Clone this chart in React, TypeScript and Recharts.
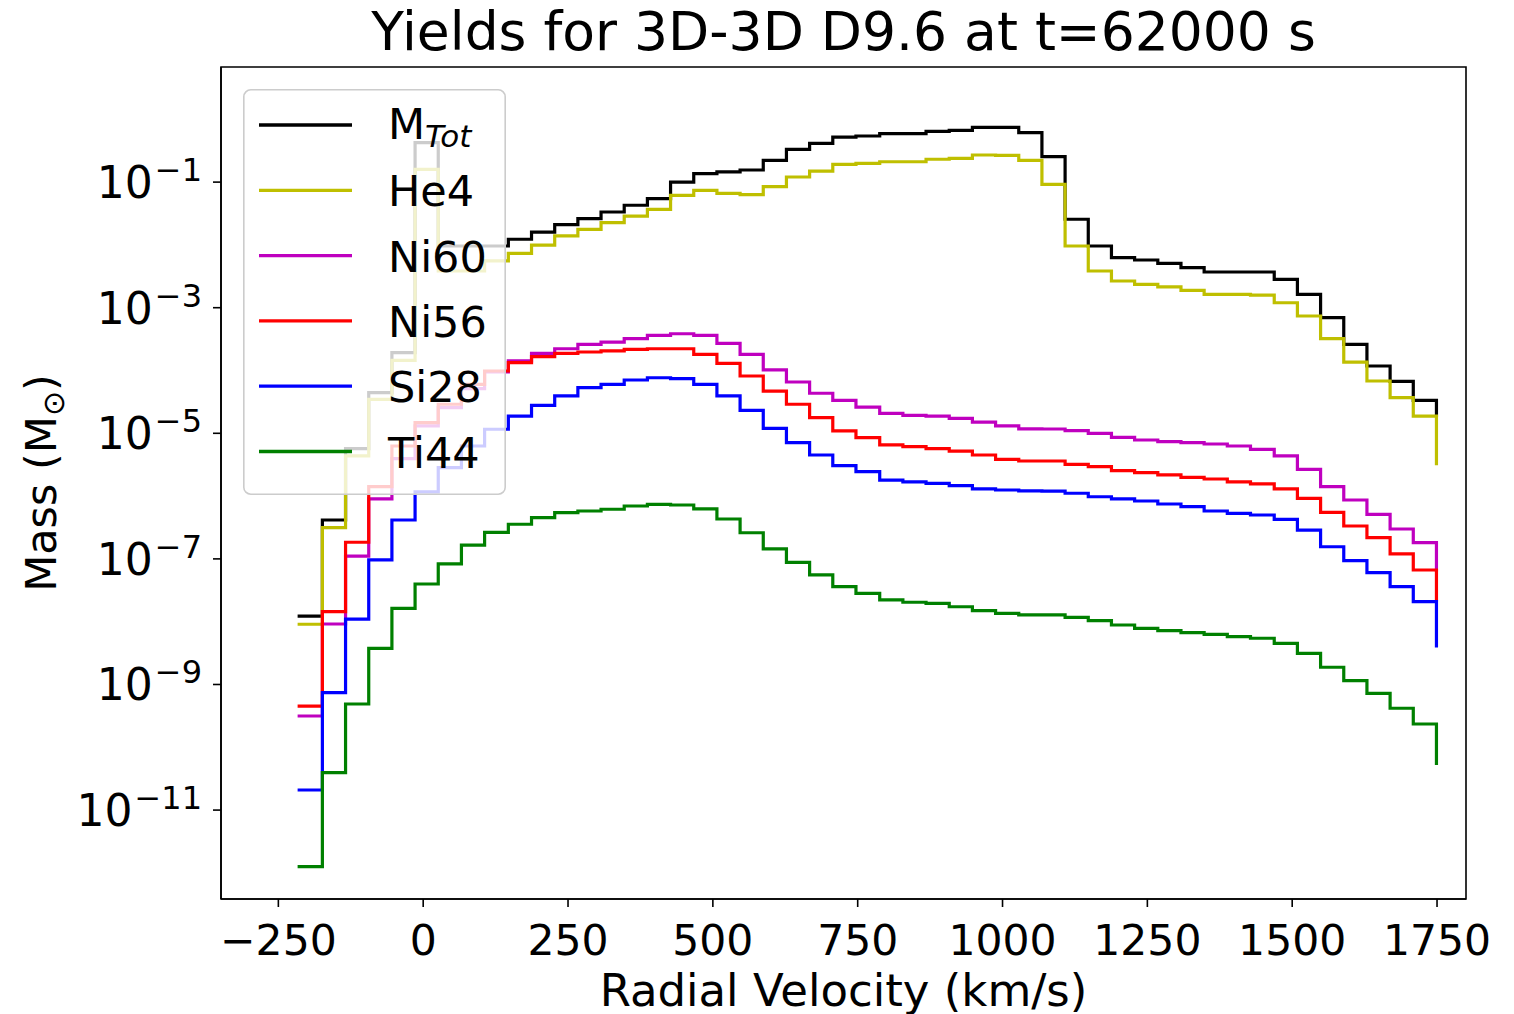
import { LineChart, Line, XAxis, YAxis, Legend, ReferenceArea } from "recharts";

// bin edges (km/s), step drawn "post" like plt.step(where='post')
const VELOCITY = [
  -214, -174, -134, -94, -54, -14, 26, 66, 106, 147,
  187, 227, 267, 307, 347, 387, 427, 467, 507, 547,
  587, 627, 667, 707, 747, 788, 828, 868, 908, 948,
  988, 1028, 1068, 1108, 1148, 1188, 1228, 1268, 1308, 1348,
  1388, 1428, 1469, 1509, 1549, 1589, 1629, 1669, 1709, 1749,
];

const M_TOT = [
  1.23e-8, 4.16e-7, 5.69e-6, 4.44e-5, 1.92e-4, 0.424, 9.6e-3, 9.6e-3, 9.6e-3, 1.23e-2,
  1.6e-2, 2.1e-2, 2.62e-2, 3.34e-2, 4.28e-2, 5.45e-2, 0.1, 0.136, 0.145, 0.156,
  0.222, 0.333, 0.415, 0.522, 0.542, 0.59, 0.59, 0.644, 0.668, 0.746,
  0.746, 0.612, 0.254, 2.56e-2, 9.6e-3, 6.25e-3, 5.75e-3, 5.09e-3, 4.34e-3, 3.7e-3,
  3.7e-3, 3.7e-3, 2.83e-3, 1.63e-3, 6.93e-4, 2.61e-4, 1.18e-4, 6.73e-5, 3.35e-5, 1.95e-5,
];

const HE4 = [
  9.1e-9, 3.14e-7, 4.36e-6, 3.48e-5, 1.45e-4, 0.16, 3.84e-3, 3.84e-3, 5.55e-3, 7.35e-3,
  9.95e-3, 1.39e-2, 1.77e-2, 2.26e-2, 2.88e-2, 3.68e-2, 6.17e-2, 7.4e-2, 6.62e-2, 6.31e-2,
  8.45e-2, 0.1205, 0.15, 0.192, 0.199, 0.211, 0.211, 0.231, 0.239, 0.27,
  0.267, 0.222, 9.23e-2, 9.6e-3, 3.84e-3, 2.66e-3, 2.36e-3, 2.14e-3, 1.89e-3, 1.63e-3,
  1.63e-3, 1.59e-3, 1.2e-3, 7.38e-4, 3.21e-4, 1.36e-4, 6.81e-5, 3.69e-5, 1.88e-5, 3.28e-6,
];

const NI60 = [
  3.15e-10, 9.18e-9, 1.11e-7, 9.0e-7, 3.94e-6, 1.31e-5, 2.56e-5, 5.13e-5, 9.46e-5, 1.42e-4,
  1.87e-4, 2.22e-4, 2.61e-4, 2.84e-4, 3.21e-4, 3.63e-4, 3.85e-4, 3.63e-4, 2.71e-4, 1.81e-4,
  1.02e-4, 6.56e-5, 4.34e-5, 3.35e-5, 2.62e-5, 2.08e-5, 1.93e-5, 1.88e-5, 1.73e-5, 1.51e-5,
  1.31e-5, 1.18e-5, 1.17e-5, 1.1e-5, 1.0e-5, 8.63e-6, 7.82e-6, 7.35e-6, 7.08e-6, 6.76e-6,
  6.28e-6, 5.56e-6, 4.36e-6, 2.67e-6, 1.41e-6, 8.67e-7, 5.13e-7, 2.99e-7, 1.81e-7, 6.6e-8,
];

const NI56 = [
  4.53e-10, 1.45e-8, 1.84e-7, 1.41e-6, 6.28e-6, 1.48e-5, 2.9e-5, 6.03e-5, 9.82e-5, 1.33e-4,
  1.66e-4, 1.87e-4, 1.97e-4, 2.05e-4, 2.17e-4, 2.22e-4, 2.22e-4, 1.81e-4, 1.3e-4, 8.17e-5,
  4.71e-5, 2.9e-5, 1.77e-5, 1.09e-5, 8.51e-6, 6.52e-6, 6.12e-6, 5.69e-6, 5.22e-6, 4.51e-6,
  3.85e-6, 3.62e-6, 3.62e-6, 3.21e-6, 2.94e-6, 2.54e-6, 2.36e-6, 2.17e-6, 1.99e-6, 1.87e-6,
  1.69e-6, 1.56e-6, 1.3e-6, 9.23e-7, 5.52e-7, 3.34e-7, 2.18e-7, 1.2e-7, 6.65e-8, 2.21e-8,
];

const SI28 = [
  2.09e-11, 7.4e-10, 1.1e-8, 9.62e-8, 4.16e-7, 1.17e-6, 2.83e-6, 6.28e-6, 1.16e-5, 1.88e-5,
  2.79e-5, 3.93e-5, 5.32e-5, 6.03e-5, 7.06e-5, 7.67e-5, 7.4e-5, 6.03e-5, 3.93e-5, 2.32e-5,
  1.2e-5, 7.08e-6, 4.51e-6, 3.05e-6, 2.45e-6, 1.8e-6, 1.69e-6, 1.6e-6, 1.47e-6, 1.3e-6,
  1.25e-6, 1.21e-6, 1.2e-6, 1.11e-6, 9.77e-7, 9.0e-7, 8.36e-7, 7.48e-7, 6.78e-7, 5.79e-7,
  5.32e-7, 5.0e-7, 4.27e-7, 2.88e-7, 1.56e-7, 9.35e-8, 6.03e-8, 3.61e-8, 2.08e-8, 4.1e-9,
];

const TI44 = [
  1.26e-12, 3.94e-11, 4.89e-10, 3.77e-9, 1.63e-8, 3.98e-8, 8.3e-8, 1.66e-7, 2.65e-7, 3.56e-7,
  4.53e-7, 5.45e-7, 5.79e-7, 6.17e-7, 6.95e-7, 7.4e-7, 7.21e-7, 6.24e-7, 4.32e-7, 2.61e-7,
  1.44e-7, 8.83e-8, 5.55e-8, 3.61e-8, 2.83e-8, 2.22e-8, 2.04e-8, 1.96e-8, 1.73e-8, 1.5e-8,
  1.36e-8, 1.28e-8, 1.28e-8, 1.17e-8, 1.04e-8, 8.85e-9, 7.85e-9, 7.19e-9, 6.68e-9, 6.3e-9,
  5.77e-9, 5.45e-9, 4.53e-9, 3.14e-9, 1.88e-9, 1.15e-9, 7.24e-10, 4.18e-10, 2.35e-10, 5.56e-11,
];

const X_TICKS = [-250, 0, 250, 500, 750, 1000, 1250, 1500, 1750];
const Y_TICKS = [1e-1, 1e-3, 1e-5, 1e-7, 1e-9, 1e-11];

const SERIES = [
  { key: "mtot", label: "M", sub: "Tot", color: "#000000", values: M_TOT },
  { key: "he4", label: "He4", color: "#bfbf00", values: HE4 },
  { key: "ni60", label: "Ni60", color: "#bf00bf", values: NI60 },
  { key: "ni56", label: "Ni56", color: "#ff0000", values: NI56 },
  { key: "si28", label: "Si28", color: "#0000ff", values: SI28 },
  { key: "ti44", label: "Ti44", color: "#008000", values: TI44 },
];

const data = VELOCITY.map((v, i) => {
  const row: Record<string, number> = { v };
  for (const s of SERIES) row[s.key] = s.values[i];
  return row;
});

const FONT = "DejaVu Sans";
const W = 1514;
const H = 1014;
const PLOT = { left: 221, right: 1466, top: 67, bottom: 899 };
const X_DOMAIN = [-349, 1800];
const Y_DOMAIN = [Math.pow(10, -12.416), Math.pow(10, 0.833)];

function XTick({ x, payload }: any) {
  const v = payload.value as number;
  const s = v < 0 ? "\u2212" + Math.abs(v) : String(v);
  return (
    <text x={x} y={PLOT.bottom + 56} textAnchor="middle" fontSize={42.5} fontFamily={FONT} fill="#000">
      {s}
    </text>
  );
}

function YTick({ y, payload }: any) {
  const e = Math.round(Math.log10(payload.value));
  return (
    <text x={202} y={y + 16} textAnchor="end" fontSize={44} fontFamily={FONT} fill="#000">
      10
      <tspan fontSize={32} dx={2} dy={-17}>{"\u2212" + Math.abs(e)}</tspan>
    </text>
  );
}

function LegendBox() {
  return (
    <svg width={263} height={406} style={{ display: "block", overflow: "visible" }}>
      <rect x={0.8} y={0.8} width={261.4} height={404.4} rx={7} fill="rgba(255,255,255,0.8)" stroke="#cccccc" strokeWidth={1.6} />
      {SERIES.map((s, i) => {
        const cy = 36 + i * 65.3;
        return (
          <g key={s.key}>
            <line x1={16} x2={109} y1={cy} y2={cy} stroke={s.color} strokeWidth={3.3} />
            <text x={145} y={s.sub ? cy + 14 : cy + 16} fontSize={43} fontFamily={FONT} fill="#000">
              {s.label}
              {s.sub && (
                <tspan fontSize={31} fontStyle="italic" dy={8}>
                  {s.sub}
                </tspan>
              )}
            </text>
          </g>
        );
      })}
    </svg>
  );
}

export default function App() {
  return (
    <div style={{ position: "absolute", left: 0, top: 0, width: W, height: H, background: "#fff" }}>
      <LineChart
        width={W}
        height={H}
        data={data}
        margin={{ top: PLOT.top, right: W - PLOT.right, bottom: H - PLOT.bottom - 100, left: PLOT.left - 150 }}
      >
        <XAxis
          dataKey="v"
          type="number"
          domain={X_DOMAIN}
          allowDataOverflow
          ticks={X_TICKS}
          tick={<XTick />}
          tickSize={8}
          height={100}
          axisLine={{ stroke: "#000", strokeWidth: 1.6 }}
          tickLine={{ stroke: "#000", strokeWidth: 1.6 }}
        />
        <YAxis
          scale="log"
          type="number"
          domain={Y_DOMAIN}
          allowDataOverflow
          ticks={Y_TICKS}
          tick={<YTick />}
          tickSize={8}
          width={150}
          axisLine={{ stroke: "#000", strokeWidth: 1.6 }}
          tickLine={{ stroke: "#000", strokeWidth: 1.6 }}
        />
        <ReferenceArea
          x1={X_DOMAIN[0]}
          x2={X_DOMAIN[1]}
          y1={Y_DOMAIN[0]}
          y2={Y_DOMAIN[1]}
          fill="none"
          fillOpacity={0}
          stroke="#000"
          strokeWidth={1.6}
          ifOverflow="visible"
        />
        {SERIES.map((s) => (
          <Line
            key={s.key}
            dataKey={s.key}
            type="stepAfter"
            stroke={s.color}
            strokeWidth={3.2}
            strokeLinecap="square"
            dot={false}
            activeDot={false}
            isAnimationActive={false}
          />
        ))}
        <Legend
          layout="vertical"
          align="center"
          verticalAlign="middle"
          content={() => <LegendBox />}
          wrapperStyle={{ position: "absolute", left: 243, top: 89, width: 263, height: 406, margin: 0 }}
        />
        <text x={(PLOT.left + PLOT.right) / 2} y={50} textAnchor="middle" fontSize={53.5} fontFamily={FONT} fill="#000">
          Yields for 3D-3D D9.6 at t=62000 s
        </text>
        <text x={(PLOT.left + PLOT.right) / 2} y={1006} textAnchor="middle" fontSize={45} fontFamily={FONT} fill="#000">
          Radial Velocity (km/s)
        </text>
        <text
          x={56}
          y={(PLOT.top + PLOT.bottom) / 2}
          transform={`rotate(-90 56 ${(PLOT.top + PLOT.bottom) / 2})`}
          textAnchor="middle"
          fontSize={43}
          fontFamily={FONT}
          fill="#000"
        >
          Mass (M
          <tspan fontSize={30} dy={8}>{"\u2299"}</tspan>
          <tspan dy={-8}>)</tspan>
        </text>
      </LineChart>
    </div>
  );
}
